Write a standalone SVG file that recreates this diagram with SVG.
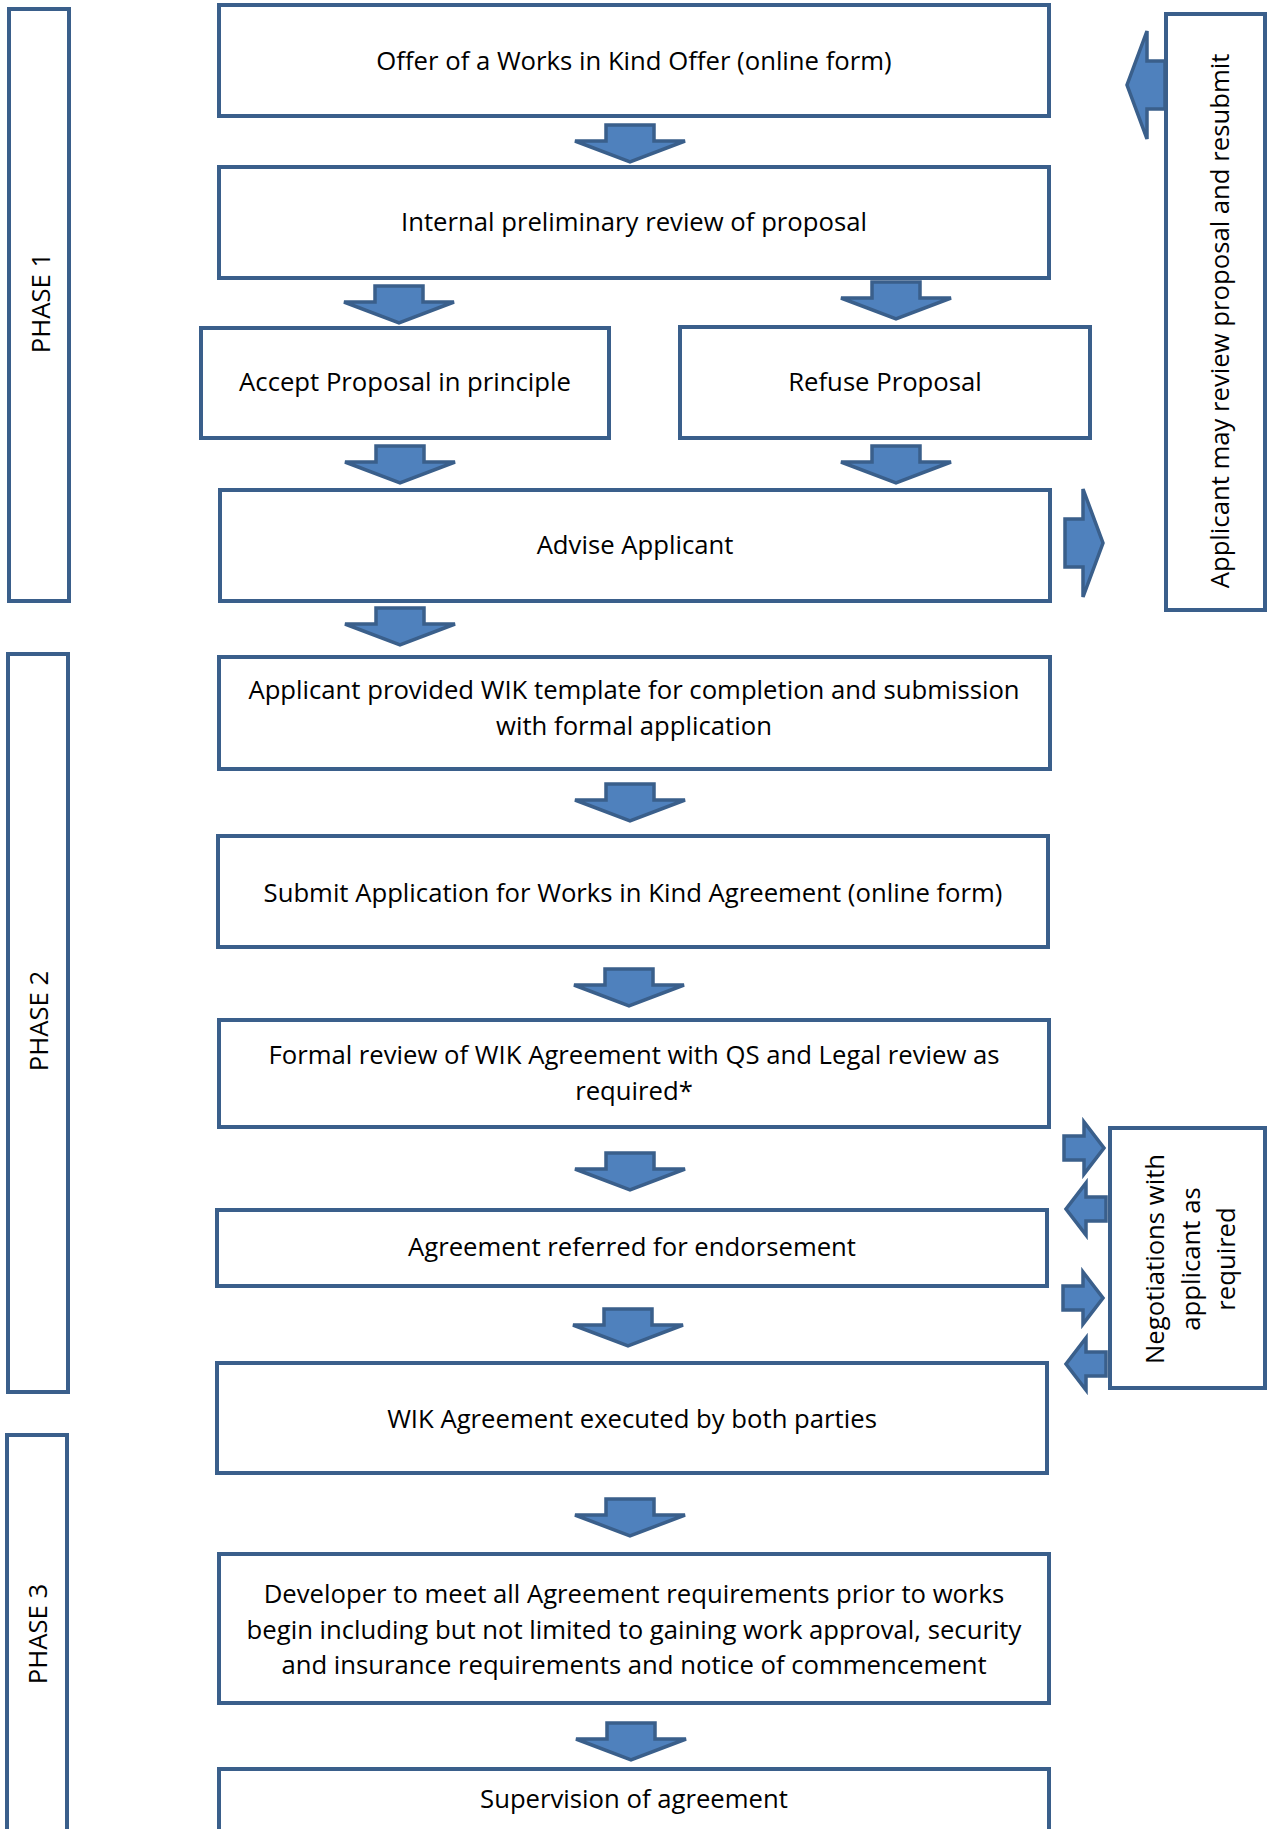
<svg xmlns="http://www.w3.org/2000/svg" xmlns:xlink="http://www.w3.org/1999/xlink" width="1267" height="1829" viewBox="0 0 1267 1829">
<style>
.box{fill:#fff;stroke:#3A5F8B;stroke-width:4}
.arr{fill:#4F81BD;stroke:#3A5F8B;stroke-width:3.5;stroke-linejoin:miter}
.t{font-family:"Open Sans","Liberation Sans",sans-serif;font-size:25.7px;fill:#000;text-anchor:middle}
</style>
<defs>
<path id="down" d="M-24,0 H24 V16 H55 L0,37 L-55,16 H-24 Z"/>
<path id="bigR" d="M0,-24 H18 V-54 L38,0 L18,54 V24 H0 Z"/>
<path id="smR" d="M0,-12 H20 V-26 L40,0 L20,26 V12 H0 Z"/>
</defs>
<rect width="1267" height="1829" fill="#fff"/>

<g id="phase1"><rect class="box" x="9" y="9" width="60" height="592"/><text class="t" transform="translate(49.5,303) rotate(-90)">PHASE 1</text></g>
<g id="phase2"><rect class="box" x="8" y="654" width="60" height="738"/><text class="t" transform="translate(48,1021) rotate(-90)">PHASE 2</text></g>
<g id="phase3"><rect class="box" x="7" y="1435" width="60" height="420"/><text class="t" transform="translate(47,1634) rotate(-90)">PHASE 3</text></g>

<g id="n1"><rect class="box" x="219" y="5" width="830" height="111"/><text class="t" x="634" y="70">Offer of a Works in Kind Offer (online form)</text></g>
<g id="n2"><rect class="box" x="219" y="167" width="830" height="111"/><text class="t" x="634" y="231">Internal preliminary review of proposal</text></g>
<g id="n3"><rect class="box" x="201" y="328" width="408" height="110"/><text class="t" x="405" y="391">Accept Proposal in principle</text></g>
<g id="n4"><rect class="box" x="680" y="327" width="410" height="111"/><text class="t" x="885" y="391">Refuse Proposal</text></g>
<g id="n5"><rect class="box" x="220" y="490" width="830" height="111"/><text class="t" x="635" y="554">Advise Applicant</text></g>
<g id="n6"><rect class="box" x="219" y="657" width="831" height="112"/><text class="t" x="634" y="699">Applicant provided WIK template for completion and submission</text><text class="t" x="634" y="735">with formal application</text></g>
<g id="n7"><rect class="box" x="218" y="836" width="830" height="111"/><text class="t" x="633" y="902">Submit Application for Works in Kind Agreement (online form)</text></g>
<g id="n8"><rect class="box" x="219" y="1020" width="830" height="107"/><text class="t" x="634" y="1064">Formal review of WIK Agreement with QS and Legal review as</text><text class="t" x="634" y="1100">required*</text></g>
<g id="n9"><rect class="box" x="217" y="1210" width="830" height="76"/><text class="t" x="632" y="1256">Agreement referred for endorsement</text></g>
<g id="n10"><rect class="box" x="217" y="1363" width="830" height="110"/><text class="t" x="632" y="1428">WIK Agreement executed by both parties</text></g>
<g id="n11"><rect class="box" x="219" y="1554" width="830" height="149"/><text class="t" x="634" y="1603">Developer to meet all Agreement requirements prior to works</text><text class="t" x="634" y="1639">begin including but not limited to gaining work approval, security</text><text class="t" x="634" y="1674">and insurance requirements and notice of commencement</text></g>
<g id="n12"><rect class="box" x="219" y="1769" width="830" height="80"/><text class="t" x="634" y="1808">Supervision of agreement</text></g>

<g id="resubmit"><rect class="box" x="1166" y="14" width="99" height="596"/><text class="t" transform="translate(1228.5,321) rotate(-90)">Applicant may review proposal and resubmit</text></g>
<g id="negotiate"><rect class="box" x="1110" y="1128" width="155" height="260"/><text class="t" transform="translate(1163.5,1259) rotate(-90)">Negotiations with</text><text class="t" transform="translate(1199.5,1259) rotate(-90)">applicant as</text><text class="t" transform="translate(1234.5,1259) rotate(-90)">required</text></g>

<g id="connectors" class="arr">
<use href="#down" x="630" y="125"/>
<use href="#down" x="399" y="286"/>
<use href="#down" x="896" y="282"/>
<use href="#down" x="400" y="446"/>
<use href="#down" x="896" y="446"/>
<use href="#down" x="400" y="608"/>
<use href="#down" x="630" y="784"/>
<use href="#down" x="629" y="969"/>
<use href="#down" x="630" y="1153"/>
<use href="#down" x="628" y="1309"/>
<use href="#down" x="630" y="1499"/>
<use href="#down" x="631" y="1723"/>
<use href="#bigR" transform="translate(1065,543)"/>
<use href="#bigR" transform="translate(1165,85) scale(-1,1)"/>
<use href="#smR" transform="translate(1064,1148)"/>
<use href="#smR" transform="translate(1106,1209) scale(-1,1)"/>
<use href="#smR" transform="translate(1063,1298)"/>
<use href="#smR" transform="translate(1106,1364) scale(-1,1)"/>
</g>
</svg>
